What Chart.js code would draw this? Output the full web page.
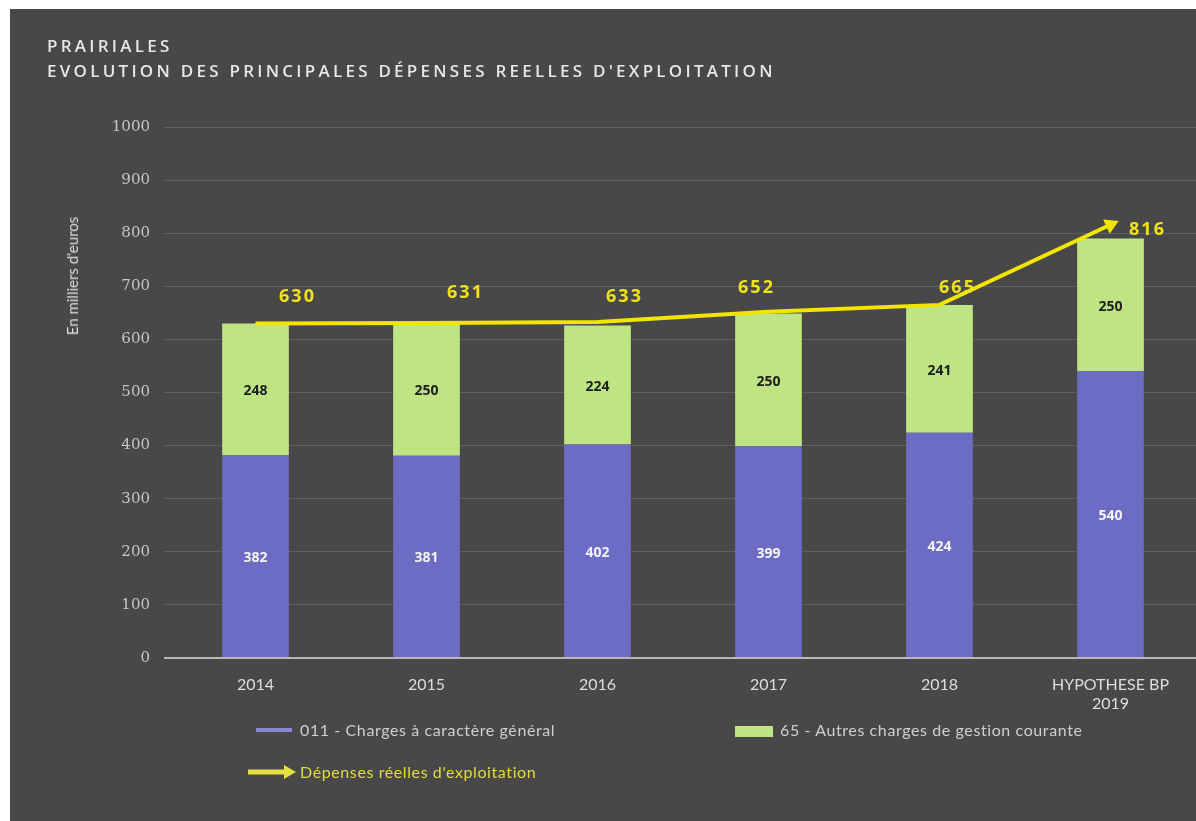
<!DOCTYPE html>
<html>
<head>
<meta charset="utf-8">
<script src="https://cdn.jsdelivr.net/npm/chart.js@4/dist/chart.umd.min.js"></script>
<style>
  html, body { margin:0; padding:0; background:#ffffff; }
  #wrap { position:relative; width:1196px; height:821px; overflow:hidden; }
  canvas { position:absolute; left:0; top:0; }
  .t { position:absolute; font-family:"Open Sans", sans-serif; font-weight:600; color:#e6e6e6; font-size:17px; letter-spacing:3.25px; white-space:nowrap; }
  .ytitle { position:absolute; left:72px; top:276px; transform:translate(-50%,-50%) rotate(-90deg); font-family:Lato, sans-serif; font-size:15px; color:#dcdcdc; white-space:nowrap; }
  .leg { position:absolute; font-family:Lato, sans-serif; font-size:16px; letter-spacing:0.6px; color:#cfcfcf; white-space:nowrap; }
  .sw { position:absolute; }
</style>
</head>
<body>
<div id="wrap">
  <canvas id="c" width="1196" height="821"></canvas>
  <div class="t" style="left:47px;top:34px;">PRAIRIALES</div>
  <div class="t" style="left:47px;top:59px;">EVOLUTION DES PRINCIPALES DÉPENSES REELLES D'EXPLOITATION</div>
  <div class="ytitle">En milliers d'euros</div>

  <div class="sw" style="left:256px;top:728px;width:36px;height:4px;background:#8a86d6;"></div>
  <div class="leg" style="left:300px;top:720px;">011 - Charges à caractère général</div>
  <div class="sw" style="left:735px;top:726px;width:38px;height:11px;background:#bfe585;"></div>
  <div class="leg" style="left:780px;top:720px;">65 - Autres charges de gestion courante</div>
  <svg class="sw" style="left:246px;top:764px;" width="52" height="16">
    <line x1="2" y1="8" x2="40" y2="8" stroke="#e6e040" stroke-width="5"/>
    <polygon points="38,1 50,8 38,15" fill="#e6e040"/>
  </svg>
  <div class="leg" style="left:300px;top:762px;color:#e2dc3c;">Dépenses réelles d'exploitation</div>
</div>
<script>
const categories = ['2014', '2015', '2016', '2017', '2018', ['HYPOTHESE BP', '2019']];
const charges011 = [382, 381, 402, 399, 424, 540];
const charges65 = [248, 250, 224, 250, 241, 250];
const depensesTotal = [630, 631, 633, 652, 665, 816];
const yTicks = [0, 100, 200, 300, 400, 500, 600, 700, 800, 900, 1000];

const bgPlugin = {
  id: 'bg',
  beforeDraw(chart) {
    const ctx = chart.ctx;
    ctx.save();
    ctx.fillStyle = '#ffffff';
    ctx.fillRect(0, 0, chart.width, chart.height);
    ctx.fillStyle = '#484848';
    ctx.fillRect(10, 9, chart.width - 10, chart.height - 9);
    ctx.restore();
  }
};

const labelPlugin = {
  id: 'valueLabels',
  afterDatasetsDraw(chart, args, opts) {
    const ctx = chart.ctx;
    ctx.save();
    ctx.textAlign = 'center';
    ctx.textBaseline = 'middle';
    [0, 1].forEach(di => {
      const meta = chart.getDatasetMeta(di);
      const ds = chart.data.datasets[di];
      meta.data.forEach((bar, i) => {
        const y = (bar.y + bar.base) / 2;
        ctx.font = 'bold 14px "Open Sans", sans-serif';
        ctx.fillStyle = di === 0 ? '#f4f4f4' : '#1e1e1e';
        ctx.fillText(String(ds.data[i]), bar.x, y + 2);
      });
    });
    const lm = chart.getDatasetMeta(2);
    const off = opts.offsets;
    ctx.font = 'bold 18px "Open Sans", sans-serif';
    ctx.fillStyle = '#f0e21a';
    if ('letterSpacing' in ctx) ctx.letterSpacing = '2px';
    lm.data.forEach((pt, i) => {
      ctx.fillText(String(chart.data.datasets[2].data[i]), pt.x + off[i][0], pt.y + off[i][1]);
    });
    ctx.restore();
  }
};

new Chart(document.getElementById('c'), {
  data: {
    labels: categories,
    datasets: [
      {
        type: 'bar', label: '011 - Charges à caractère général', data: charges011,
        backgroundColor: '#6c6cc4', stack: 'bars', order: 2,
        categoryPercentage: 1, barPercentage: 0.39
      },
      {
        type: 'bar', label: '65 - Autres charges de gestion courante', data: charges65,
        backgroundColor: '#bee484', stack: 'bars', order: 2,
        categoryPercentage: 1, barPercentage: 0.39
      },
      {
        type: 'line', label: "Dépenses réelles d'exploitation", data: depensesTotal,
        borderColor: '#f2e600', backgroundColor: '#f2e600', borderWidth: 4,
        stack: 'total', order: 1, tension: 0, clip: false,
        pointStyle: [false, false, false, false, false, 'triangle'],
        pointRadius: [0, 0, 0, 0, 0, 9],
        pointRotation: [0, 0, 0, 0, 0, 65],
        pointBorderWidth: 0
      }
    ]
  },
  options: {
    responsive: false,
    animation: false,
    layout: { autoPadding: false, padding: { left: 10, right: 0, top: 127, bottom: 0 } },
    plugins: {
      legend: { display: false },
      tooltip: { enabled: false },
      valueLabels: { offsets: [[42, -27], [39, -30], [27, -25], [-12, -24], [18, -17], [37, 5]] }
    },
    scales: {
      x: {
        stacked: true,
        grid: { display: false },
        border: { display: false },
        ticks: { color: '#dedede', font: { family: 'Lato, sans-serif', size: 16 }, padding: 9, maxRotation: 0, autoSkip: false },
        afterFit(scale) { scale.height = 163; scale.paddingLeft = 0; scale.paddingRight = 0; }
      },
      y: {
        stacked: true,
        min: 0, max: 1000,
        afterBuildTicks(scale) { scale.ticks = yTicks.map(v => ({ value: v })); },
        grid: {
          color: c => (c.tick && c.tick.value === 0) ? '#b8b8b8' : 'rgba(255,255,255,0.13)',
          lineWidth: c => (c.tick && c.tick.value === 0) ? 2 : 1,
          tickLength: 6
        },
        border: { display: false },
        ticks: {
          color: '#c6c6c6', font: { family: '"DejaVu Serif", serif', size: 15 }, padding: 14,
          callback: v => String(v)
        },
        afterFit(scale) { scale.width = 160; }
      }
    }
  },
  plugins: [bgPlugin, labelPlugin]
});
</script>
</body>
</html>
